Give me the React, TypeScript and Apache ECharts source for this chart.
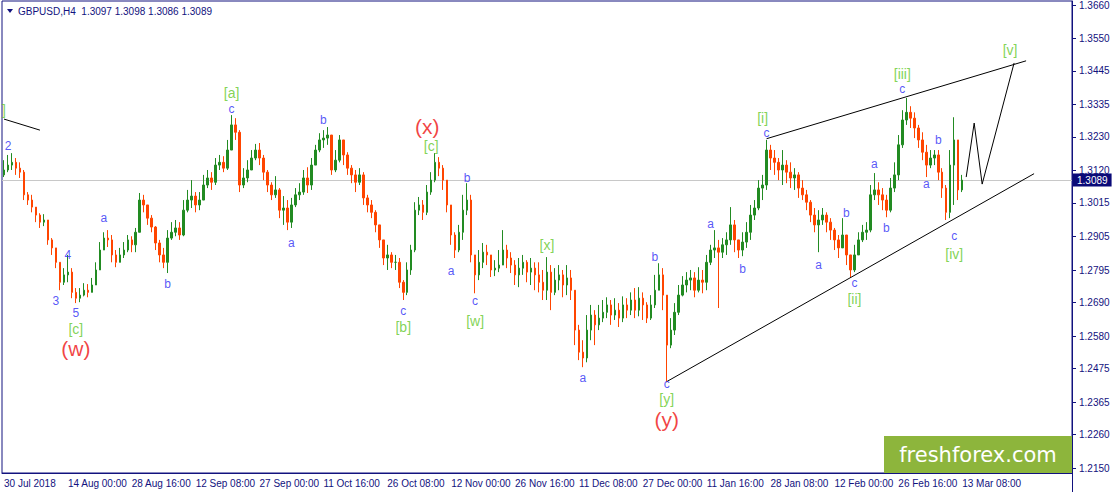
import React, { useEffect, useRef } from "react";
import * as echarts from "echarts";

// ---- data (prices in pips: price * 10000) ----
const headerSymbol = "GBPUSD,H4";
const lastOHLC = [1.3097, 1.3098, 1.3086, 1.3089];
const currentPrice = 13089;
const firstOpen = 13106;

// each bar: [close, low, high]; open = previous close
const barsJulSep = [
  [13122,13099,13154],[13138,13115,13171],[13147,13122,13177],[13128,13106,13161],[13115,13096,13147],
  [13041,13024,13122],[13024,13008,13050],[13001,12984,13041],[12975,12952,12998],[12952,12933,12981],
  [12959,12939,12978],[12894,12878,12933],[12868,12845,12900],[12821,12802,12861],[12756,12730,12821],
  [12780,12747,12802],[12789,12756,12845],[12723,12704,12802],[12704,12688,12737],[12714,12691,12737],
  [12730,12710,12753],[12723,12707,12750],[12747,12723,12770],[12796,12747,12821],[12861,12796,12887],
  [12900,12861,12919],[12894,12871,12926],[12845,12821,12910],[12821,12805,12861],[12845,12821,12868],
  [12861,12835,12887],[12894,12854,12910],[12878,12854,12906],[12919,12854,12933],[13024,12919,13047],
  [13008,12984,13041],[12965,12943,13008],[12936,12919,12975],[12884,12861,12939],[12845,12821,12894],
  [12821,12802,12868],[12900,12786,12926],[12919,12894,12952],[12933,12906,12959],[12910,12894,12952],
  [12991,12906,13024],[13024,12984,13057],[13037,12998,13089],[13008,12984,13050],[13024,12991,13050],
];
const barsSepOct = [
  [13073,13024,13106],[13096,13063,13122],[13082,13057,13115],[13138,13073,13161],[13147,13122,13171],
  [13128,13115,13167],[13187,13122,13220],[13269,13187,13301],[13245,13220,13291],[13073,13050,13252],
  [13096,13063,13128],[13122,13082,13154],[13161,13128,13187],[13187,13154,13207],[13161,13138,13210],
  [13115,13089,13171],[13073,13050,13122],[13041,13024,13082],[13057,13031,13102],[12991,12965,13063],
  [12998,12943,13037],[12952,12926,13024],[13008,12933,13031],[13041,13001,13063],[13050,13024,13079],
  [13096,13041,13122],[13073,13047,13131],[13138,13057,13161],[13187,13147,13204],[13220,13180,13242],
  [13226,13194,13252],[13236,13204,13262],[13122,13106,13236],[13154,13115,13187],[13220,13147,13236],
  [13171,13138,13220],[13128,13106,13180],[13106,13079,13138],[13082,13050,13122],[13106,13073,13128],
  [13031,13008,13115],[13008,12984,13041],[12984,12965,13024],[12943,12919,12991],[12894,12868,12943],
  [12835,12812,12894],[12845,12796,12878],[12821,12802,12854],[12821,12796,12845],[12756,12737,12835],
];
const barsOctDec = [
  [12723,12698,12763],[12796,12714,12821],[12861,12780,12878],[12991,12854,13017],[13008,12975,13034],
  [12984,12959,13024],[13050,12975,13073],[13089,13041,13115],[13147,13082,13177],[13128,13102,13164],
  [13089,13057,13138],[13008,12984,13082],[12910,12878,13008],[12861,12835,12919],[12919,12854,12943],
  [12991,12894,13041],[13024,12975,13079],[12845,12821,13041],[12780,12720,12845],[12821,12763,12861],
  [12854,12802,12884],[12845,12812,12878],[12796,12773,12845],[12802,12776,12828],[12812,12789,12861],
  [12861,12821,12926],[12835,12802,12878],[12812,12786,12854],[12780,12747,12828],[12802,12740,12835],
  [12821,12780,12845],[12789,12756,12828],[12802,12747,12835],[12780,12730,12821],[12756,12723,12821],
  [12730,12698,12796],[12789,12698,12838],[12723,12665,12812],[12763,12714,12802],[12780,12730,12812],
  [12747,12707,12796],[12770,12714,12812],[12730,12698,12796],[12600,12551,12730],[12528,12502,12617],
  [12509,12479,12567],[12600,12495,12649],[12649,12567,12682],[12617,12551,12665],[12639,12600,12682],
];
const barsDecJan = [
  [12658,12626,12698],[12682,12639,12707],[12649,12617,12698],[12665,12633,12704],[12639,12610,12688],
  [12682,12626,12710],[12665,12639,12704],[12698,12649,12723],[12665,12639,12737],[12704,12645,12740],
  [12682,12633,12723],[12639,12623,12691],[12682,12633,12714],[12730,12672,12780],[12780,12730,12818],
  [12714,12665,12802],[12551,12430,12698],[12600,12541,12639],[12658,12584,12688],[12714,12649,12747],
  [12747,12710,12776],[12763,12723,12789],[12770,12730,12796],[12730,12707,12789],[12763,12723,12805],
  [12756,12720,12796],[12821,12730,12845],[12861,12812,12878],[12868,12835,12926],[12854,12672,12894],
  [12878,12835,12900],[12894,12845,12919],[12943,12878,13001],[12894,12854,12959],[12861,12835,12894],
  [12887,12841,12919],[12919,12868,12952],[12975,12894,13008],[12998,12959,13024],[13063,12991,13089],
  [13073,13024,13106],[13187,13057,13220],[13161,13122,13204],[13147,13106,13187],[13122,13089,13161],
  [13138,13073,13187],[13115,13079,13154],[13096,13063,13147],[13106,13057,13128],[13063,13031,13115],
];
const barsFebMar = [
  [13041,13024,13089],[13017,12991,13057],[12975,12952,13024],[12943,12919,12998],[12959,12854,12991],
  [12975,12943,12998],[12952,12919,12984],[12926,12894,12965],[12894,12861,12933],[12868,12835,12910],
  [12910,12868,12965],[12845,12812,12910],[12796,12773,12845],[12845,12789,12878],[12894,12845,12919],
  [12919,12887,12943],[12926,12894,12952],[13041,12919,13073],[13057,13024,13112],[13041,13008,13082],
  [13024,12991,13063],[12991,12968,13041],[13063,12984,13096],[13106,13050,13147],[13204,13089,13236],
  [13285,13194,13317],[13310,13269,13357],[13291,13259,13330],[13259,13226,13310],[13220,13194,13269],
  [13180,13154,13245],[13138,13099,13204],[13161,13128,13187],[13171,13138,13187],[13115,13089,13187],
  [13063,13031,13128],[12984,12959,13073],[13138,12965,13187],[13220,13008,13294],[13057,13024,13220],
  [13089,13050,13106],
];

const dateLabels = [
  "30 Jul 2018", "14 Aug 00:00", "28 Aug 16:00", "12 Sep 08:00", "27 Sep 00:00", "11 Oct 16:00",
  "26 Oct 08:00", "12 Nov 00:00", "26 Nov 16:00", "11 Dec 08:00", "27 Dec 00:00", "11 Jan 16:00",
  "28 Jan 08:00", "12 Feb 00:00", "26 Feb 16:00", "13 Mar 08:00",
];
const barsPerDateLabel = 16;
const totalSlots = 268;

const priceTicks = [12150, 12260, 12365, 12475, 12580, 12690, 12795, 12905, 13015, 13120, 13230, 13335, 13445, 13550, 13660];

// wave lines [slot, pips]
const upperChannel = [[191, 13224], [256, 13478]];
const lowerChannel = [[166, 12432], [258, 13110]];
const projection = [[241, 13099], [243, 13275], [245, 13076], [253, 13471]];
const leftLine = [[0, 13288], [9, 13252]];

// wave labels [text, slot, pips]
const blueLabels = [
  ["2",1,13200],["3",13,12695],["4",16,12845],["5",18,12656],["a",25,12965],["b",41,12750],
  ["c",57,13322],["a",72,12884],["b",80,13285],["c",100,12662],["a",112,12793],["b",116,13096],
  ["c",118,12695],["a",145,12444],["b",163,12838],["c",166,12425],["a",177,12946],["b",185,12799],
  ["c",191,13242],["a",204,12812],["b",211,12982],["c",213,12752],["a",218,13141],["b",221,12933],
  ["c",225,13385],["a",231,13076],["b",234,13220],["c",238,12907],
];
const greenLabels = [
  ["]",0,13317],["[c]",18,12605],["[a]",57,13372],["[b]",100,12611],["[c]",107,13200],["[w]",118,12631],
  ["[x]",136,12877],["[y]",166,12374],["[i]",190,13293],["[ii]",213,12700],["[iii]",225,13436],
  ["[iv]",238,12849],["[v]",252,13513],
];
const redLabels = [["(w)",18,12540],["(x)",106,13265],["(y)",166,12308]];

const NAVY = "#12127e";
const UP = "#228b22";
const DOWN = "#ff4500";
const FONT = "Liberation Sans";

function buildOption() {
  const all = [...barsJulSep, ...barsSepOct, ...barsOctDec, ...barsDecJan, ...barsFebMar];
  let prev = firstOpen;
  const ohlc = all.map(([c, l, h]) => {
    const o = prev;
    prev = c;
    return [o, c, Math.min(l, o, c), Math.max(h, o, c)];
  });
  const categories = Array.from({ length: totalSlots }, (_, i) => String(i));
  const showDate = (i: number) => i % barsPerDateLabel === 0 && i / barsPerDateLabel < dateLabels.length;
  const toLabelData = (arr: any[]) => arr.map(([t, x, y]) => ({ name: t, value: [x, y] }));
  const labelSeries = (arr: any[], color: string, size: number) => ({
    type: "scatter",
    data: toLabelData(arr),
    symbol: "circle",
    symbolSize: 1,
    itemStyle: { color: "rgba(0,0,0,0)" },
    silent: true,
    z: 5,
    label: {
      show: true, position: "inside", formatter: "{b}", color, fontSize: size, fontFamily: FONT,
      lineHeight: size, padding: 0,
    },
  });
  const lineSeries = (data: number[][]) => ({
    type: "line",
    data,
    symbol: "none",
    silent: true,
    lineStyle: { color: "#000", width: 1 },
    z: 4,
  });

  return {
    animation: false,
    textStyle: { fontFamily: FONT },
    grid: { left: 2, right: 41, top: 1, bottom: 19, show: true, borderColor: NAVY, borderWidth: 1 },
    xAxis: {
      type: "category",
      data: categories,
      boundaryGap: true,
      axisLine: { lineStyle: { color: NAVY } },
      axisTick: { alignWithLabel: true, interval: (i: number) => showDate(i), length: 4, lineStyle: { color: NAVY } },
      axisLabel: {
        interval: (i: number) => showDate(i),
        formatter: (v: string) => {
          const i = parseInt(v, 10);
          return showDate(i) ? dateLabels[i / barsPerDateLabel] : "";
        },
        align: "left",
        color: NAVY,
        fontSize: 10,
        margin: 5,
      },
      splitLine: { show: false },
    },
    yAxis: {
      type: "value",
      position: "right",
      min: 12134,
      max: 13673,
      axisLine: { show: true, lineStyle: { color: NAVY } },
      axisTick: { show: true, length: 4, customValues: priceTicks, lineStyle: { color: NAVY } },
      axisLabel: {
        customValues: priceTicks,
        formatter: (v: number) => (v / 10000).toFixed(4),
        color: NAVY,
        fontSize: 10,
        margin: 7,
      },
      splitLine: { show: false },
    },
    series: [
      {
        type: "candlestick",
        data: ohlc,
        barWidth: 2,
        silent: true,
        itemStyle: { color: UP, color0: DOWN, borderColor: UP, borderColor0: DOWN, borderWidth: 1 },
        markLine: {
          silent: true,
          symbol: ["none", "none"],
          lineStyle: { color: "#c8c8c8", type: "solid", width: 1 },
          label: {
            show: true,
            position: "end",
            distance: 1,
            formatter: () => (currentPrice / 10000).toFixed(4),
            backgroundColor: "#0a0a78",
            color: "#fff",
            fontSize: 10,
            padding: [2, 4, 1, 4],
          },
          data: [{ yAxis: currentPrice }],
          z: 1,
        },
        z: 3,
      },
      lineSeries(upperChannel),
      lineSeries(lowerChannel),
      lineSeries(projection),
      lineSeries(leftLine),
      labelSeries(blueLabels, "#2b2bf5", 12),
      labelSeries(greenLabels, "#62c82a", 14),
      labelSeries(redLabels, "#ee1111", 21),
    ],
    graphic: [
      { type: "polygon", shape: { points: [[7, 9], [13, 9], [10, 13]] }, style: { fill: NAVY } },
      {
        type: "text",
        x: 18,
        y: 11,
        style: {
          text: `${headerSymbol}  ${lastOHLC.map((v) => v.toFixed(4)).join(" ")}`,
          fill: NAVY,
          fontSize: 10,
          fontFamily: FONT,
          verticalAlign: "middle",
        },
      },
      { type: "line", shape: { x1: 1072.5, y1: 473, x2: 1072.5, y2: 492 }, style: { stroke: NAVY, lineWidth: 1 } },
      { type: "rect", shape: { x: 884, y: 436, width: 188, height: 37 }, style: { fill: "#8db53c" }, z: 10 },
      {
        type: "text",
        x: 978,
        y: 455,
        z: 11,
        style: {
          text: "freshforex.com",
          fill: "#ffffff",
          fontSize: 21,
          fontFamily: "DejaVu Sans",
          align: "center",
          verticalAlign: "middle",
        },
      },
    ],
  };
}

export default function App() {
  const ref = useRef<HTMLDivElement>(null);
  useEffect(() => {
    document.body.style.margin = "0";
    const chart = echarts.init(ref.current!, null, { renderer: "svg" });
    chart.setOption(buildOption() as any);
    return () => chart.dispose();
  }, []);
  return <div ref={ref} style={{ width: 1113, height: 492 }} />;
}
